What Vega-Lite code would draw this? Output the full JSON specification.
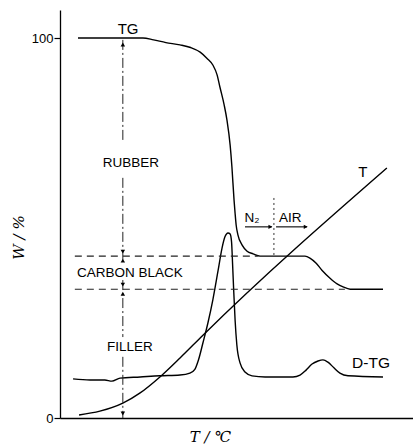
{
  "$schema": "https://vega.github.io/schema/vega-lite/v6.json",
  "width": 353,
  "height": 408,
  "autosize": {"type": "none"},
  "padding": {"left": 60, "top": 10, "right": 0, "bottom": 28},
  "background": "white",
  "config": {"view": {"stroke": null}},
  "datasets": {
    "curves": [
      {"s":"TG","i":1,"u":5.1,"w":100},{"s":"TG","i":2,"u":23.5,"w":100},{"s":"TG","i":3,"u":26.5,"w":99.5},{"s":"TG","i":4,"u":30.0,"w":98.8},{"s":"TG","i":5,"u":34.0,"w":98.2},{"s":"TG","i":6,"u":37.0,"w":97.5},{"s":"TG","i":7,"u":39.7,"w":96.3},{"s":"TG","i":8,"u":41.6,"w":94.7},{"s":"TG","i":9,"u":43.3,"w":92.9},{"s":"TG","i":10,"u":44.5,"w":90.3},{"s":"TG","i":11,"u":45.3,"w":87.1},{"s":"TG","i":12,"u":46.5,"w":82.4},{"s":"TG","i":13,"u":47.3,"w":78.4},{"s":"TG","i":14,"u":48.2,"w":71.8},{"s":"TG","i":15,"u":48.7,"w":66.1},{"s":"TG","i":16,"u":49.3,"w":57.4},{"s":"TG","i":17,"u":49.6,"w":53.9},{"s":"TG","i":18,"u":49.9,"w":50.8},{"s":"TG","i":19,"u":50.4,"w":48.2},{"s":"TG","i":20,"u":51.6,"w":45.5},{"s":"TG","i":21,"u":53.0,"w":43.9},{"s":"TG","i":22,"u":54.7,"w":43.2},{"s":"TG","i":23,"u":56.7,"w":42.6},{"s":"TG","i":24,"u":69.4,"w":42.6},{"s":"TG","i":25,"u":70.8,"w":42.1},{"s":"TG","i":26,"u":72.5,"w":40.8},{"s":"TG","i":27,"u":74.2,"w":38.9},{"s":"TG","i":28,"u":76.5,"w":36.8},{"s":"TG","i":29,"u":78.5,"w":35.3},{"s":"TG","i":30,"u":80.2,"w":34.5},{"s":"TG","i":31,"u":82.2,"w":33.9},{"s":"TG","i":32,"u":91.5,"w":33.9},
      {"s":"DTG","i":1,"u":3.7,"w":10.3},{"s":"DTG","i":2,"u":8.5,"w":10.0},{"s":"DTG","i":3,"u":12.7,"w":10.0},{"s":"DTG","i":4,"u":14.7,"w":9.7},{"s":"DTG","i":5,"u":17.0,"w":10.5},{"s":"DTG","i":6,"u":22.7,"w":10.8},{"s":"DTG","i":7,"u":28.3,"w":11.1},{"s":"DTG","i":8,"u":34.0,"w":11.3},{"s":"DTG","i":9,"u":36.8,"w":11.8},{"s":"DTG","i":10,"u":38.2,"w":12.8},{"s":"DTG","i":11,"u":39.2,"w":15.2},{"s":"DTG","i":12,"u":40.5,"w":19.8},{"s":"DTG","i":13,"u":41.9,"w":25.0},{"s":"DTG","i":14,"u":43.3,"w":31.1},{"s":"DTG","i":15,"u":44.8,"w":38.9},{"s":"DTG","i":16,"u":45.9,"w":44.7},{"s":"DTG","i":17,"u":46.7,"w":47.6},{"s":"DTG","i":18,"u":47.6,"w":48.7},{"s":"DTG","i":19,"u":48.2,"w":48.4},{"s":"DTG","i":20,"u":48.6,"w":46.3},{"s":"DTG","i":21,"u":48.9,"w":40.3},{"s":"DTG","i":22,"u":49.2,"w":33.7},{"s":"DTG","i":23,"u":49.6,"w":25.8},{"s":"DTG","i":24,"u":50.1,"w":19.2},{"s":"DTG","i":25,"u":51.0,"w":14.5},{"s":"DTG","i":26,"u":52.4,"w":12.1},{"s":"DTG","i":27,"u":54.4,"w":11.1},{"s":"DTG","i":28,"u":58.1,"w":10.8},{"s":"DTG","i":29,"u":66.0,"w":10.8},{"s":"DTG","i":30,"u":68.0,"w":11.3},{"s":"DTG","i":31,"u":69.7,"w":12.6},{"s":"DTG","i":32,"u":71.4,"w":14.2},{"s":"DTG","i":33,"u":73.1,"w":15.0},{"s":"DTG","i":34,"u":74.5,"w":15.3},{"s":"DTG","i":35,"u":75.9,"w":14.7},{"s":"DTG","i":36,"u":77.6,"w":13.2},{"s":"DTG","i":37,"u":79.3,"w":11.8},{"s":"DTG","i":38,"u":81.6,"w":11.1},{"s":"DTG","i":39,"u":91.5,"w":10.8},
      {"s":"T","i":1,"u":5.4,"w":0.8},{"s":"T","i":2,"u":11.3,"w":1.8},{"s":"T","i":3,"u":17.8,"w":3.9},{"s":"T","i":4,"u":22.7,"w":6.6},{"s":"T","i":5,"u":28.3,"w":10.8},{"s":"T","i":6,"u":34.0,"w":15.8},{"s":"T","i":7,"u":40.5,"w":21.8},{"s":"T","i":8,"u":92.6,"w":65.8}
    ],
    "dashes": [
      {"s":"a","i":1,"u":4.2,"w":42.6},{"s":"a","i":2,"u":56.0,"w":42.6},
      {"s":"b","i":1,"u":4.2,"w":33.9},{"s":"b","i":2,"u":80.7,"w":33.9}
    ],
    "vert": [
      {"s":"1","i":1,"u":17.8,"w":99.5},{"s":"1","i":2,"u":17.8,"w":72.4},
      {"s":"2","i":1,"u":17.8,"w":63.2},{"s":"2","i":2,"u":17.8,"w":41.1},
      {"s":"3","i":1,"u":17.8,"w":36.3},{"s":"3","i":2,"u":17.8,"w":21.3},
      {"s":"4","i":1,"u":17.8,"w":16.1},{"s":"4","i":2,"u":17.8,"w":0}
    ],
    "divider": [
      {"s":"d","i":1,"u":60.6,"w":57.9},{"s":"d","i":2,"u":60.6,"w":42.6}
    ],
    "gasArrows": [
      {"s":"n","i":1,"u":52.4,"w":50.3},{"s":"n","i":2,"u":60.0,"w":50.3},
      {"s":"a","i":1,"u":61.2,"w":50.3},{"s":"a","i":2,"u":70.0,"w":50.3}
    ],
    "heads": [
      {"u":17.8,"w":98.3,"shape":"triangle-up"},
      {"u":17.8,"w":43.8,"shape":"triangle-down"},
      {"u":17.8,"w":41.4,"shape":"triangle-up"},
      {"u":17.8,"w":35.1,"shape":"triangle-down"},
      {"u":17.8,"w":32.7,"shape":"triangle-up"},
      {"u":17.8,"w":1.2,"shape":"triangle-down"},
      {"u":59.6,"w":50.3,"shape":"triangle-right"},
      {"u":69.6,"w":50.3,"shape":"triangle-right"}
    ],
    "labels": [
      {"u":19.3,"w":102.4,"label":"TG","fs":15},
      {"u":20.1,"w":67.1,"label":"RUBBER","fs":13.5},
      {"u":19.8,"w":38.2,"label":"CARBON BLACK","fs":13.5},
      {"u":19.8,"w":18.7,"label":"FILLER","fs":13.5},
      {"u":88.1,"w":14.5,"label":"D-TG","fs":15.5},
      {"u":85.8,"w":64.7,"label":"T","fs":15},
      {"u":54.4,"w":52.6,"label":"N₂","fs":13.5},
      {"u":65.2,"w":52.6,"label":"AIR","fs":13.5}
    ]
  },
  "encoding": {
    "x": {
      "field": "u", "type": "quantitative",
      "scale": {"domain": [0, 100], "nice": false, "zero": false},
      "axis": {
        "title": "T / ℃", "titleFont": "DejaVu Serif", "titleFontStyle": "italic", "titleFontWeight": "normal",
        "titleFontSize": 15, "titleColor": "black", "titleX": 150, "titleY": 18, "titleBaseline": "middle", "titleAlign": "center",
        "labels": false, "ticks": false, "grid": false, "domainColor": "black", "domainWidth": 1.3
      }
    },
    "y": {
      "field": "w", "type": "quantitative",
      "scale": {"domain": [0, 107.37], "nice": false, "zero": false},
      "axis": {
        "values": [0, 100], "title": "W / %", "titleFont": "DejaVu Serif", "titleFontStyle": "italic", "titleFontWeight": "normal",
        "titleFontSize": 15, "titleColor": "black", "titleX": -42, "titleY": 227, "titleAngle": -90, "titleAlign": "center", "titleBaseline": "middle",
        "labelFont": "Liberation Sans", "labelFontSize": 13, "labelColor": "black", "labelPadding": 1,
        "tickColor": "black", "tickSize": 6, "tickWidth": 1.2, "grid": false, "domainColor": "black", "domainWidth": 1.3
      }
    }
  },
  "layer": [
    {
      "data": {"name": "curves"},
      "mark": {"type": "line", "color": "black", "strokeWidth": 1.4, "interpolate": "monotone"},
      "encoding": {"detail": {"field": "s"}, "order": {"field": "i", "type": "quantitative"}}
    },
    {
      "data": {"name": "dashes"},
      "mark": {"type": "line", "color": "#222", "strokeWidth": 1.1, "strokeDash": [7, 5]},
      "encoding": {"detail": {"field": "s"}, "order": {"field": "i", "type": "quantitative"}}
    },
    {
      "data": {"name": "vert"},
      "mark": {"type": "line", "color": "#222", "strokeWidth": 1, "strokeDash": [10, 3, 2, 3]},
      "encoding": {"detail": {"field": "s"}, "order": {"field": "i", "type": "quantitative"}}
    },
    {
      "data": {"name": "divider"},
      "mark": {"type": "line", "color": "#333", "strokeWidth": 1, "strokeDash": [2, 3]},
      "encoding": {"detail": {"field": "s"}, "order": {"field": "i", "type": "quantitative"}}
    },
    {
      "data": {"name": "gasArrows"},
      "mark": {"type": "line", "color": "black", "strokeWidth": 1.1},
      "encoding": {"detail": {"field": "s"}, "order": {"field": "i", "type": "quantitative"}}
    },
    {
      "data": {"name": "heads"},
      "mark": {"type": "point", "filled": true, "color": "black", "size": 20, "opacity": 1},
      "encoding": {"shape": {"field": "shape", "type": "nominal", "scale": null}}
    },
    {
      "data": {"name": "labels"},
      "mark": {"type": "text", "font": "Liberation Sans", "color": "black", "align": "center", "baseline": "middle"},
      "encoding": {"text": {"field": "label"}, "size": {"field": "fs", "type": "quantitative", "scale": null}}
    }
  ]
}
